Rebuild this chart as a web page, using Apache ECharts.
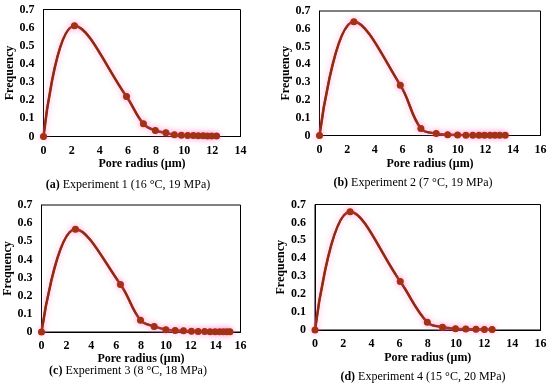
<!DOCTYPE html>
<html><head><meta charset="utf-8">
<script src="https://cdn.jsdelivr.net/npm/echarts@6/dist/echarts.min.js"></script>
<style>html,body{margin:0;padding:0;background:#fff}#c{width:550px;height:389px}</style>
</head><body><div id="c"></div>
<script>
// Panel (a) Experiment 1
const xA = [0, 2.2, 5.9, 7.1, 7.95, 8.7, 9.3, 9.8, 10.25, 10.65, 11.0, 11.35, 11.65, 11.95, 12.3];
const yA = [0, 0.61, 0.22, 0.07, 0.033, 0.02, 0.009, 0.007, 0.006, 0.005, 0.004, 0.004, 0.003, 0.003, 0.003];
// Panel (b) Experiment 2
const xB = [0, 2.49, 5.85, 7.34, 8.45, 9.28, 10.0, 10.6, 11.1, 11.55, 11.95, 12.35, 12.7, 13.05, 13.45];
const yB = [0, 0.64, 0.283, 0.039, 0.011, 0.004, 0.003, 0.002, 0.002, 0.002, 0.001, 0.001, 0.001, 0.001, 0.001];
// Panel (c) Experiment 3
const xC = [0, 2.73, 6.35, 7.96, 9.06, 10.0, 10.75, 11.42, 12.06, 12.6, 13.12, 13.56, 13.96, 14.32, 14.62, 14.9, 15.15];
const yC = [0, 0.567, 0.262, 0.065, 0.031, 0.013, 0.008, 0.007, 0.004, 0.003, 0.003, 0.002, 0.002, 0.002, 0.001, 0.001, 0.001];
// Panel (d) Experiment 4
const xD = [0, 2.49, 6.05, 7.97, 9.05, 9.97, 10.7, 11.42, 12.02, 12.57];
const yD = [0, 0.66, 0.27, 0.043, 0.016, 0.007, 0.005, 0.004, 0.003, 0.003];

const xMaxes = [14, 16, 16, 16];
const yTicks = ['0', '0.1', '0.2', '0.3', '0.4', '0.5', '0.6', '0.7'];
const captions = [
  ['(a)', ' Experiment 1 (16 °C, 19 MPa)'],
  ['(b)', ' Experiment 2 (7 °C, 19 MPa)'],
  ['(c)', ' Experiment 3 (8 °C, 18 MPa)'],
  ['(d)', ' Experiment 4 (15 °C, 20 MPa)']
];
const xName = 'Pore radius (μm)';
const yName = 'Frequency';

const panels = [[xA, yA], [xB, yB], [xC, yC], [xD, yD]];
const grids = [
  {left: 43.5, top: 9.5, width: 197, height: 127},
  {left: 319.5, top: 11, width: 221, height: 124.5},
  {left: 41.5, top: 205, width: 199, height: 127},
  {left: 315, top: 204.5, width: 225.5, height: 125.5}
];
const captionPos = [[128, 185], [413, 183], [128, 370.5], [423, 377]];
const nameGap = [21, 22, 19.5, 21.5];

const serif = '"Liberation Serif", "DejaVu Serif", serif';
const option = {
  animation: false,
  grid: grids.map(g => Object.assign({show: true, borderColor: '#000', borderWidth: 1, backgroundColor: 'transparent'}, g)),
  xAxis: grids.map((g, i) => ({
    type: 'value', gridIndex: i, min: 0, max: xMaxes[i], interval: 2,
    name: xName, nameLocation: 'middle', nameGap: nameGap[i],
    nameTextStyle: {fontFamily: serif, fontWeight: 'bold', fontSize: 12, color: '#000'},
    axisLine: {lineStyle: {color: '#000'}}, axisTick: {show: false}, splitLine: {show: false},
    axisLabel: {fontFamily: serif, fontWeight: 'bold', fontSize: 12, color: '#000', margin: 8}
  })),
  yAxis: grids.map((g, i) => ({
    type: 'value', gridIndex: i, min: 0, max: 0.7, interval: 0.1,
    name: yName, nameLocation: 'middle', nameGap: 28,
    nameTextStyle: {fontFamily: serif, fontWeight: 'bold', fontSize: 12, color: '#000'},
    axisLine: {show: true, lineStyle: {color: '#000'}}, axisTick: {show: false}, splitLine: {show: false},
    axisLabel: {fontFamily: serif, fontWeight: 'bold', fontSize: 12, color: '#000', margin: 9,
      formatter: v => yTicks[Math.round(v * 10)]}
  })),
  series: panels.flatMap((p, i) => [
    {
      type: 'line', xAxisIndex: i, yAxisIndex: i, smooth: 0.4,
      data: p[0].map((x, k) => [x, p[1][k]]),
      symbol: 'circle', symbolSize: 7,
      lineStyle: {color: '#d42020', width: 2.6, shadowColor: 'rgba(255,120,200,0.6)', shadowBlur: 6},
      itemStyle: {color: '#c82018', shadowColor: 'rgba(255,120,200,0.6)', shadowBlur: 6}
    },
    {
      type: 'line', xAxisIndex: i, yAxisIndex: i, smooth: 0.4,
      data: p[0].map((x, k) => [x, p[1][k]]),
      symbol: 'circle', symbolSize: 6,
      lineStyle: {color: '#7e3212', width: 2},
      itemStyle: {color: '#9a3614'}
    }
  ]),
  graphic: captions.map((c, i) => ({
    type: 'text', x: captionPos[i][0], y: captionPos[i][1],
    style: {
      text: '{b|' + c[0] + '}{r|' + c[1] + '}',
      align: 'center', verticalAlign: 'middle',
      rich: {
        b: {fontFamily: serif, fontWeight: 'bold', fontSize: 12, fill: '#000'},
        r: {fontFamily: serif, fontSize: 12, fill: '#000'}
      }
    }
  }))
};
echarts.init(document.getElementById('c'), null, {renderer: 'canvas'}).setOption(option);
</script></body></html>
